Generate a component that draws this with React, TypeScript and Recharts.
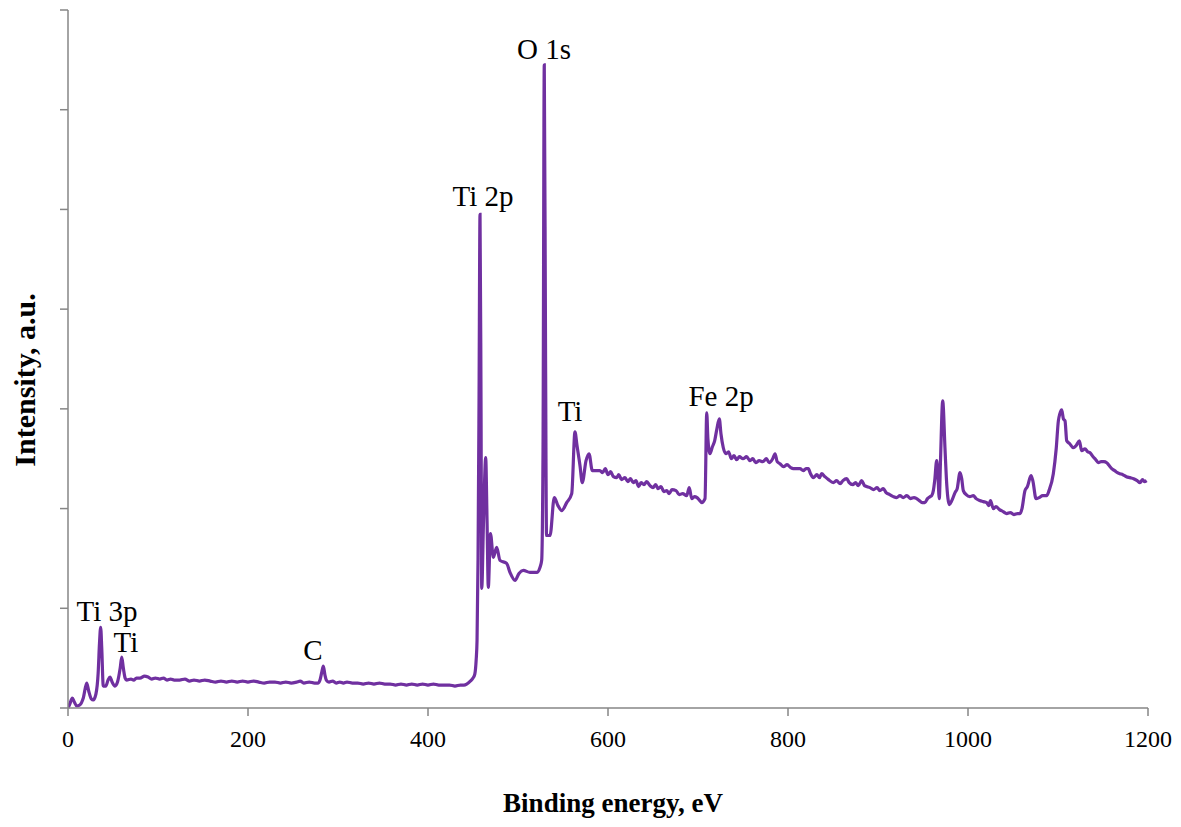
import React from "react";
import { LineChart, Line, XAxis, YAxis, ReferenceDot } from "recharts";

// Binding energy (eV)
const energy: number[] = [
  0, 2, 4.8, 7, 9.7, 13, 17, 20.8, 23, 26, 28, 31, 33.5, 35, 36.3, 37.5, 39.2, 42, 44.5, 46.7,
  49, 52.2, 55, 58, 59.7, 61.5, 63.5, 65.2, 70, 73, 76, 80, 85, 89, 93, 97, 102, 106, 110, 114,
  118, 124, 130, 135, 140, 146, 152, 158, 164, 170, 176, 182, 188, 194, 200, 206, 212, 218, 224, 230,
  236, 242, 248, 254, 258, 262, 268, 274, 278, 280, 282, 283.7, 285.5, 287, 290, 294, 298, 302, 306, 310,
  316, 322, 328, 334, 340, 346, 352, 358, 364, 370, 376, 382, 388, 394, 400, 406, 412, 418, 424, 430,
  436, 440, 443, 447, 450, 452, 453.5, 454.5, 455.6, 456.7, 457.8, 458.9, 459.7, 461.7, 464.1, 465.6, 467, 469.4, 472.6, 476.3,
  480, 487.4, 491.1, 496.7, 501.1, 505.9, 513.3, 520.8, 524.4, 526.3, 527.8, 529.2, 530.6, 531.7, 535.6, 540.3, 544.4, 548.6, 554.1, 559.7,
  563.3, 565.6, 568.9, 571.4, 575.6, 578.9, 582.6, 591, 594, 597, 600, 603, 606, 609.7, 612, 615, 618.9, 622, 625, 628,
  631, 634, 636.7, 640, 643, 646.7, 650, 653, 655.6, 659, 662, 665.2, 668, 671, 675.6, 679, 683, 687.4, 690.3, 693,
  696, 698.9, 702, 704.1, 707.8, 709.7, 711, 713.3, 716, 718.5, 721, 723.7, 725.5, 728.1, 731, 734, 737, 740, 743, 746,
  750, 754, 757.8, 761, 764, 768, 772, 776, 779, 783, 785.6, 788, 791.1, 795, 799, 803, 806, 809.7, 813.3, 817,
  820, 822.6, 825, 828.1, 832, 835, 837.4, 841, 845, 850.4, 854, 858, 861, 865.2, 868, 872, 875, 878.1, 881.9, 885,
  888, 891.1, 895, 899, 902, 905.9, 909, 913, 917, 920.7, 924.4, 928, 932, 936, 940, 942.9, 946, 949, 952.2, 955,
  958, 959.7, 961.5, 963, 965.2, 966.5, 968.1, 969.5, 971.9, 974.4, 976, 979.3, 982, 985.6, 988, 991.1, 993, 994.8, 998, 1002,
  1005.9, 1009, 1013, 1017, 1020.8, 1023, 1025, 1028.1, 1031, 1035, 1039, 1043, 1047, 1051, 1055, 1057.8, 1060, 1063.3, 1066, 1070,
  1072, 1075.6, 1079, 1083, 1087.4, 1090, 1094.8, 1098, 1100.4, 1102, 1104.1, 1106, 1107.8, 1109.7, 1113, 1117, 1120, 1123.7, 1126.3, 1130,
  1133, 1135.6, 1139, 1142, 1144.8, 1148, 1151, 1154.1, 1157, 1159.7, 1163, 1166, 1168.9, 1172, 1176, 1180, 1184, 1188, 1191.1, 1194,
  1196, 1198.5,
];

// Intensity (a.u.)
const intensity: number[] = [
  0, 4, 10, 6, 2, 3, 10, 25, 17, 9, 8, 14, 35, 65, 81, 60, 22, 22, 28, 31,
  26, 22, 26, 40, 51, 40, 30, 28, 29, 28, 30, 30, 32, 31, 29, 30, 29, 30, 28, 29,
  28, 28, 29, 27, 28, 27, 28, 27, 26, 27, 26, 27, 26, 27, 26, 27, 26, 25, 26, 26,
  25, 26, 25, 26, 27, 25, 26, 25, 25, 28, 36, 42, 33, 28, 26, 27, 25, 26, 25, 26,
  25, 25, 24, 25, 24, 25, 24, 24, 23, 24, 23, 24, 23, 24, 23, 24, 23, 23, 23, 22,
  23, 23, 24, 27, 30, 34, 48, 68, 150, 308, 495, 308, 120, 188, 251, 188, 121, 175, 151, 161,
  148, 145, 136, 128, 135, 138, 136, 136, 141, 148, 258, 645, 358, 173, 173, 211, 203, 198, 206, 215,
  277, 263, 243, 226, 248, 255, 238, 238, 236, 240, 234, 237, 232, 231, 234, 229, 231, 227, 230, 226,
  228, 222, 226, 224, 227, 223, 221, 224, 220, 222, 217, 218, 215, 219, 218, 214, 215, 213, 221, 210,
  212, 211, 208, 206, 210, 296, 270, 255, 262, 268, 280, 290, 275, 261, 255, 257, 250, 253, 249, 252,
  250, 252, 248, 250, 246, 248, 247, 250, 246, 250, 255, 247, 245, 242, 244, 241, 240, 240, 240, 238,
  240, 240, 235, 231, 234, 231, 235, 232, 229, 226, 228, 225, 228, 230, 226, 224, 226, 223, 228, 223,
  222, 221, 219, 221, 218, 220, 216, 214, 212, 211, 213, 211, 213, 210, 211, 210, 208, 206, 206, 210,
  212, 213, 218, 228, 248, 235, 210, 250, 308, 261, 230, 204, 208, 216, 220, 236, 230, 218, 214, 212,
  213, 210, 208, 207, 206, 203, 208, 200, 202, 199, 197, 195, 196, 194, 195, 195, 200, 218, 222, 233,
  228, 210, 211, 213, 213, 218, 235, 260, 288, 295, 299, 290, 288, 268, 265, 261, 263, 268, 258, 260,
  257, 256, 252, 249, 246, 247, 247, 246, 243, 240, 238, 236, 235, 234, 232, 231, 230, 228, 226, 229,
  227, 228,
];

const xTicks: number[] = [0, 200, 400, 600, 800, 1000, 1200];
const yTicks: number[] = [0, 100, 200, 300, 400, 500, 600, 700];

const labelText: string[] = ["O 1s", "Ti 2p", "Ti", "Fe 2p", "Ti 3p", "Ti", "C"];
const labelX: number[] = [528.9, 461.1, 557.8, 725.6, 43.3, 64.4, 272.2];
const labelY: number[] = [661, 514, 298, 313, 98, 66, 58];

const data = energy.map((e, i) => ({ e, v: intensity[i] }));

const FONT = '"Liberation Serif", "Times New Roman", serif';
const AXIS = "#868686";

export default function App() {
  return (
    <div style={{ position: "relative", width: 1165, height: 811, fontFamily: FONT }}>
      <LineChart width={1165} height={811} data={data} margin={{ top: 2, right: 25, left: 20, bottom: 61 }}>
        <XAxis
          type="number"
          dataKey="e"
          domain={[0, 1200]}
          ticks={xTicks}
          allowDataOverflow
          height={50}
          stroke={AXIS}
          strokeWidth={1.5}
          tickSize={8}
          tickMargin={14}
          tick={{ fill: "#000", fontSize: 24, fontFamily: FONT }}
        />
        <YAxis
          type="number"
          domain={[0, 700]}
          ticks={yTicks}
          width={40}
          stroke={AXIS}
          strokeWidth={1.5}
          tickSize={8}
          tickFormatter={() => ""}
        />
        <Line
          type="monotone"
          dataKey="v"
          stroke="#7030A0"
          strokeWidth={3.2}
          dot={false}
          isAnimationActive={false}
        />
        {labelText.map((t, i) => (
          <ReferenceDot
            key={i}
            x={labelX[i]}
            y={labelY[i]}
            r={0}
            stroke="none"
            fill="none"
            label={{ value: t, position: "center", fontSize: 29, fill: "#000", fontFamily: FONT }}
          />
        ))}
      </LineChart>
      <div
        style={{
          position: "absolute",
          left: 405,
          width: 400,
          top: 779,
          lineHeight: "32px",
          textAlign: "center",
          fontSize: 27,
          fontWeight: "bold",
        }}
      >
        Binding energy, eV
      </div>
      <div
        style={{
          position: "absolute",
          left: 17 - 150,
          top: 372 - 16,
          width: 300,
          height: 32,
          lineHeight: "32px",
          textAlign: "center",
          fontSize: 30,
          fontWeight: "bold",
          transform: "rotate(-90deg)",
        }}
      >
        Intensity, a.u.
      </div>
    </div>
  );
}
